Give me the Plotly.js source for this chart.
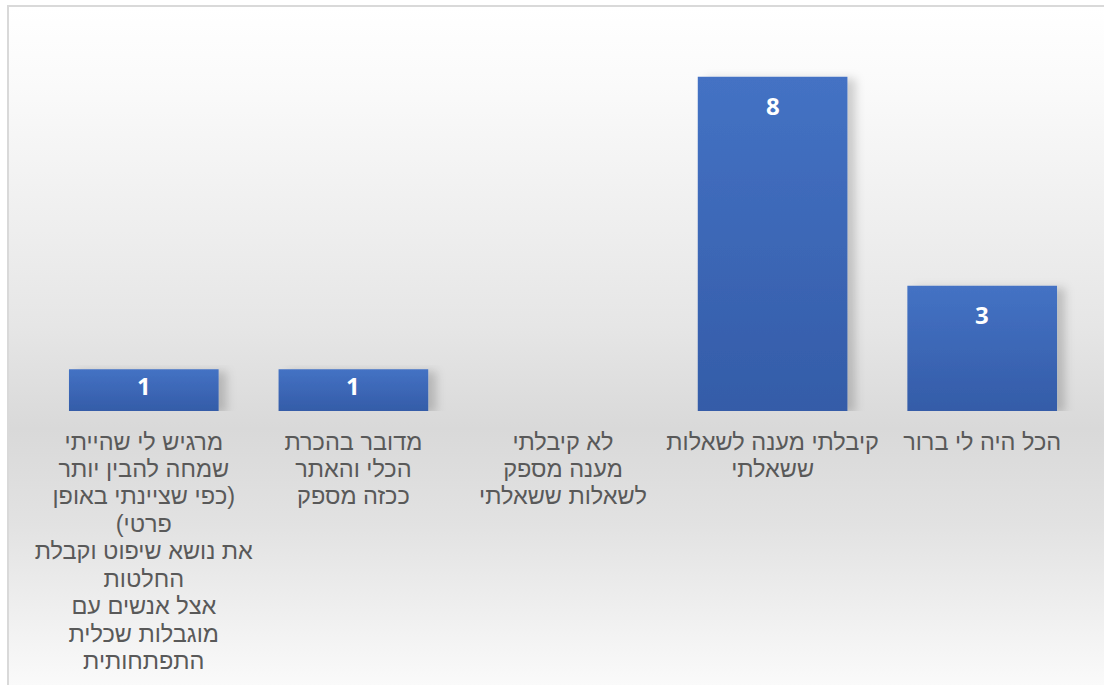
<!DOCTYPE html>
<html>
<head>
<meta charset="utf-8">
<script src="https://cdn.plot.ly/plotly-3.0.1.min.js"></script>
<style>
  html, body { margin: 0; padding: 0; width: 1104px; height: 685px; overflow: hidden; background: #ffffff; }
  #frame {
    position: absolute; left: 7px; top: 5px; width: 1200px; height: 800px;
    border: 2px solid #d9d9d9; box-sizing: border-box;
    background: linear-gradient(to bottom, #ffffff 0%, #fafafa 10%, #e6e6e6 40%, #d9d9d9 53%, #e2e2e2 65%, #fbfbfb 86%, #ffffff 100%);
  }
  #chart { position: absolute; left: 0; top: 0; width: 1104px; height: 685px; }
</style>
</head>
<body>
<div id="frame"></div>
<div id="chart"></div>
<script>
const categories = [
  'הכל היה לי ברור',
  'קיבלתי מענה לשאלות<br>ששאלתי',
  'לא קיבלתי<br>מענה מספק<br>לשאלות ששאלתי',
  'מדובר בהכרת<br>הכלי והאתר<br>ככזה מספק',
  'מרגיש לי שהייתי<br>שמחה להבין יותר<br>כפי שציינתי באופן)<br>(פרטי<br>את נושא שיפוט וקבלת<br>החלטות<br>אצל אנשים עם<br>מוגבלות שכלית<br>התפתחותית'
];
const values = [3, 8, 0, 1, 1];

const FONT = '"Liberation Sans", Arial, "DejaVu Sans", sans-serif';
const LABEL_FONT = '"Open Sans", "Noto Sans", sans-serif';

const trace = {
  type: 'bar',
  x: categories,
  y: values,
  marker: { color: '#3d66b6', line: { width: 0 } },
  hoverinfo: 'none'
};

const annotations = [];
categories.forEach((c, i) => {
  if (values[i] > 0) {
    annotations.push({
      x: c, y: values[i], xref: 'x', yref: 'y',
      text: String(values[i]),
      showarrow: false, yanchor: 'middle',
      yshift: values[i] > 1 ? -29 : -16,
      font: { family: LABEL_FONT, size: 24, color: '#ffffff', weight: 'bold' }
    });
  }
});

const layout = {
  width: 1104, height: 685,
  margin: { l: 39, r: 17, t: 35, b: 274, pad: 0 },
  paper_bgcolor: 'rgba(0,0,0,0)',
  plot_bgcolor: 'rgba(0,0,0,0)',
  bargap: 0.286,
  showlegend: false,
  xaxis: {
    type: 'category',
    autorange: 'reversed',
    showline: false, zeroline: false, showgrid: false, ticks: '',
    tickfont: { family: FONT, size: 23.5, color: '#595959' },
    tickangle: 0,
    ticklabelstandoff: 14
  },
  yaxis: { visible: false, range: [0, 9], showgrid: false, zeroline: false },
  annotations: annotations
};

Plotly.newPlot('chart', [trace], layout, { displayModeBar: false, staticPlot: true }).then(gd => {
  const svg = gd.querySelector('svg.main-svg');
  const ns = 'http://www.w3.org/2000/svg';
  let defs = svg.querySelector('defs');
  if (!defs) { defs = document.createElementNS(ns, 'defs'); svg.insertBefore(defs, svg.firstChild); }
  const grad = document.createElementNS(ns, 'linearGradient');
  grad.setAttribute('id', 'barGrad');
  grad.setAttribute('x1', '0'); grad.setAttribute('y1', '0');
  grad.setAttribute('x2', '0'); grad.setAttribute('y2', '1');
  [['0%', '#4472c4'], ['100%', '#345ca8']].forEach(([o, c]) => {
    const s = document.createElementNS(ns, 'stop');
    s.setAttribute('offset', o); s.setAttribute('stop-color', c);
    grad.appendChild(s);
  });
  defs.appendChild(grad);
  const filt = document.createElementNS(ns, 'filter');
  filt.setAttribute('id', 'barShadow');
  filt.setAttribute('x', '-10%'); filt.setAttribute('y', '-10%');
  filt.setAttribute('width', '140%'); filt.setAttribute('height', '130%');
  const ds = document.createElementNS(ns, 'feDropShadow');
  ds.setAttribute('dx', '8'); ds.setAttribute('dy', '2');
  ds.setAttribute('stdDeviation', '5');
  ds.setAttribute('flood-color', '#000'); ds.setAttribute('flood-opacity', '0.18');
  filt.appendChild(ds);
  defs.appendChild(filt);
  gd.querySelectorAll('.bars .point path').forEach(p => {
    p.style.fill = 'url(#barGrad)';
    p.setAttribute('filter', 'url(#barShadow)');
  });
  // tighten line spacing of multi-line tick labels
  const factor = 1.17 / 1.3;
  gd.querySelectorAll('.xtick text tspan.line').forEach(t => {
    const dy = t.getAttribute('dy');
    if (dy && dy.endsWith('em')) {
      const v = parseFloat(dy);
      if (v) t.setAttribute('dy', (v * factor) + 'em');
    }
  });
});
</script>
</body>
</html>
